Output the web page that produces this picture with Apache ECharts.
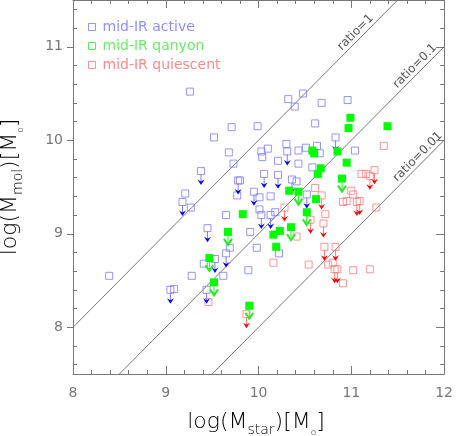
<!DOCTYPE html>
<html>
<head>
<meta charset="utf-8">
<script src="https://cdn.jsdelivr.net/npm/echarts@6/dist/echarts.min.js"></script>
<style>
html,body{margin:0;padding:0;background:#fff;}
#chart{width:456px;height:436px;}
</style>
</head>
<body>
<div id="chart"></div>
<script>
// [log Mstar, log Mmol]
var activeDet = [
  [8.39,8.55],[9.26,10.52],[9.71,10.14],[9.52,10.03],[9.68,9.87],[9.73,9.75],[9.21,9.43],[9.27,9.28],
  [9.65,9.20],[9.28,8.55],[9.69,8.85],[9.41,8.68],[9.09,8.41],[9.62,8.55],
  [9.99,10.15],[10.61,10.18],[10.48,10.50],[10.32,10.44],[10.39,10.36],[10.68,10.40],[10.96,10.43],
  [10.03,9.88],[10.10,9.91],[10.04,9.82],[10.30,9.96],[10.21,9.78],[10.43,9.89],[10.43,9.75],
  [10.51,9.92],[10.63,9.94],[10.66,9.86],[10.58,9.71],
  [9.80,9.57],[9.77,9.41],[10.01,9.39],[10.01,9.26],[10.13,9.40],[10.18,9.23],[10.41,9.56],
  [9.91,9.02],[9.98,8.85],[10.22,8.79],[9.89,8.61],[11.04,9.89]
];
var activeUL = [
  [9.38,9.67],[9.18,9.34],[9.45,9.06],[9.05,8.40],[9.44,8.40],[9.65,8.79],[9.53,8.73],[10.31,9.88],
  [10.06,9.64],[10.21,9.63],[9.78,9.57],[9.95,9.45],[10.36,9.58],[10.52,9.42],[10.03,9.20],
  [10.13,9.20],[10.83,10.03]
];
var canyonDet = [
  [10.58,9.89],[10.60,9.86],[10.67,9.70],[10.64,9.64],[10.99,10.24],[10.97,10.13],[11.39,10.15],
  [10.85,9.88],[10.95,9.76],[10.33,9.46],[9.83,9.21],[10.16,8.99],[10.23,9.03],[10.19,8.86],[10.62,9.37]
];
var canyonUL = [
  [10.43,9.45],[10.35,9.07],[10.52,9.23],[9.67,9.02],[9.47,8.74],[9.52,8.48],[9.90,8.23],[10.90,9.59]
];
var quiescentDet = [
  [11.35,9.94],[9.46,8.27],[10.61,9.49],[11.11,9.64],[11.16,9.64],[11.00,9.46],[11.02,9.42],
  [10.91,9.34],[10.95,9.35],[11.27,9.28],[10.72,9.21],[10.41,8.97],[10.16,8.69],[10.54,8.67],
  [10.75,8.67],[10.80,8.69],[10.91,8.47],[11.02,8.61],[11.20,8.62]
];
var quiescentUL = [
  [9.87,8.14],[10.28,9.28],[10.56,9.15],[10.70,9.11],[10.71,8.86],[10.83,8.86],[10.82,8.62],
  [10.85,8.62],[11.20,9.62],[11.25,9.68],[11.06,9.34],[11.09,9.35],[10.68,9.41]
];
var ratios = [1, 0.1, 0.01];
var ratioNames = ['ratio=1', 'ratio=0.1', 'ratio=0.01'];
var ratioLabelX = [11.1, 11.74, 11.77];
var xTicks = [8, 9, 10, 11, 12];
var yTicks = [8, 9, 10, 11];
var names = ['mid-IR active', 'mid-IR qanyon', 'mid-IR quiescent'];

var xMin = 8, xMax = 12, yMin = 7.5, yMax = 11.5;
var font = 'DejaVu Sans';
var frame = '#777';
var txt = '#777';

// minor ticks every 0.2, skipping the integers
var yMinor = [];
for (var v = 76; v <= 114; v += 2) { if (v % 10 !== 0) yMinor.push(v / 10); }

var chart = echarts.init(document.getElementById('chart'));

function arrow(stem, head, green) {
  return function (params, api) {
    var p = api.coord([api.value(0), api.value(1)]);
    var x = p[0], y = p[1];
    if (green) {
      return {type: 'group', children: [
        {type: 'line', shape: {x1: x, y1: y + 4, x2: x, y2: y + 12}, style: {stroke: stem, lineWidth: 1}},
        {type: 'polyline', shape: {points: [[x - 4, y + 7], [x, y + 13], [x + 4, y + 7]]},
          style: {stroke: head, lineWidth: 2, fill: null}}
      ]};
    }
    return {type: 'group', children: [
      {type: 'line', shape: {x1: x, y1: y + 3, x2: x, y2: y + 12}, style: {stroke: stem, lineWidth: 1}},
      {type: 'polygon', shape: {points: [[x - 3.5, y + 8.5], [x, y + 10.5], [x + 3.5, y + 8.5], [x, y + 14]]},
        style: {fill: head}}
    ]};
  };
}

var lineSeries = ratios.map(function (r) {
  var off = Math.log10(r);
  var x0 = Math.max(xMin, yMin - off), x1 = Math.min(xMax, yMax - off);
  return {
    type: 'line', data: [[x0, x0 + off], [x1, x1 + off]], symbol: 'none', silent: true,
    lineStyle: {color: '#555', width: 0.8}, z: 1
  };
});

var labelData = ratios.map(function (r, i) {
  return [ratioLabelX[i], ratioLabelX[i] + Math.log10(r), i];
});

var ttl = '#8a8a8a';
var sub = function (fs, lh) {
  return {fontSize: fs, fontFamily: font, fontWeight: 200, color: ttl, lineHeight: lh, verticalAlign: 'bottom'};
};
var titleRich = {
  m: {fontSize: 22, fontFamily: font, fontWeight: 200, color: ttl, lineHeight: 30},
  s: sub(14, 14),
  o: sub(9, 18)
};

function yAx(pos, opt) {
  return Object.assign({
    type: 'value', position: pos, min: yMin, max: yMax,
    axisLine: {show: true, lineStyle: {color: frame, width: 1}},
    axisLabel: {show: false}, splitLine: {show: false}
  }, opt);
}

var option = {
  animation: false,
  grid: {left: 73, right: 7, top: -1, bottom: 62},
  legend: {
    orient: 'vertical', left: 83, top: 15, itemWidth: 7, itemHeight: 7, itemGap: 5,
    icon: 'rect',
    data: [
      {name: names[0], itemStyle: {color: 'transparent', borderColor: '#7b7bff', borderWidth: 1},
        textStyle: {color: '#8f8fff'}},
      {name: names[1], itemStyle: {color: 'transparent', borderColor: '#55ee55', borderWidth: 1},
        textStyle: {color: '#66ee66'}},
      {name: names[2], itemStyle: {color: 'transparent', borderColor: '#ff7b7b', borderWidth: 1},
        textStyle: {color: '#ff8a8a'}}
    ],
    textStyle: {fontFamily: font, fontSize: 14, lineHeight: 14, padding: [0, 0, 0, 2]}
  },
  xAxis: [0, 1].map(function (i) {
    return {
      type: 'value', position: i ? 'top' : 'bottom', min: xMin, max: xMax, interval: 1,
      axisLine: {show: true, lineStyle: {color: frame, width: 1}},
      axisTick: {inside: true, length: 8, lineStyle: {color: frame}},
      minorTick: {show: true, splitNumber: 5, length: 4, lineStyle: {color: frame}},
      axisLabel: {show: !i, margin: 12, fontFamily: font, fontSize: 14, color: txt,
        customValues: xTicks},
      splitLine: {show: false}
    };
  }),
  yAxis: [
    yAx('left', {
      axisTick: {inside: false, length: 6, customValues: yTicks, lineStyle: {color: frame}},
      axisLabel: {show: true, margin: 10, fontFamily: font, fontSize: 14, color: txt, customValues: yTicks}
    }),
    yAx('left', {axisTick: {inside: true, length: 4, customValues: yMinor, lineStyle: {color: frame}}}),
    yAx('right', {axisTick: {inside: true, length: 8, customValues: yTicks, lineStyle: {color: frame}}}),
    yAx('right', {axisTick: {inside: true, length: 4, customValues: yMinor, lineStyle: {color: frame}}})
  ],
  graphic: [
    {type: 'text', x: 256, y: 422.5, silent: true,
      style: {text: '{m|log(M}{s|star}{m|)[M}{o|o}{m|]}', rich: titleRich, align: 'center', verticalAlign: 'middle'}},
    {type: 'text', x: 10, y: 187, rotation: Math.PI / 2, silent: true,
      style: {text: '{m|log(M}{s|mol}{m|)[M}{o|o}{m|]}', rich: titleRich, align: 'center', verticalAlign: 'middle'}}
  ],
  series: lineSeries.concat([
    {
      type: 'custom', data: labelData, silent: true, z: 2,
      renderItem: function (params, api) {
        var p = api.coord([api.value(0), api.value(1)]);
        var q = api.coord([api.value(0) + 1, api.value(1) + 1]);
        var ang = Math.atan2(p[1] - q[1], q[0] - p[0]);
        return {type: 'text', x: p[0], y: p[1], rotation: ang,
          style: {text: ratioNames[api.value(2)], x: 0, y: -1, align: 'center', verticalAlign: 'bottom',
            font: '12px "DejaVu Sans"', fill: '#555'}};
      }
    },
    {
      name: names[0], type: 'scatter', data: activeDet.concat(activeUL), symbol: 'rect', symbolSize: 7,
      itemStyle: {color: 'transparent', borderColor: '#7b7bff', borderWidth: 1}, z: 3
    },
    {
      name: names[2], type: 'scatter', data: quiescentDet.concat(quiescentUL), symbol: 'rect', symbolSize: 7,
      itemStyle: {color: 'transparent', borderColor: '#ff7b7b', borderWidth: 1}, z: 3
    },
    {type: 'custom', data: activeUL, renderItem: arrow('#7b7bff', '#0000ff', false), silent: true, z: 4},
    {type: 'custom', data: quiescentUL, renderItem: arrow('#ff7b7b', '#ff0000', false), silent: true, z: 4},
    {
      name: names[1], type: 'scatter', data: canyonDet.concat(canyonUL), symbol: 'rect', symbolSize: 8,
      itemStyle: {color: '#00ff00', opacity: 1}, z: 5
    },
    {type: 'custom', data: canyonUL, renderItem: arrow('#22ee22', '#22ee22', true), silent: true, z: 6}
  ])
};
chart.setOption(option);
</script>
</body>
</html>
